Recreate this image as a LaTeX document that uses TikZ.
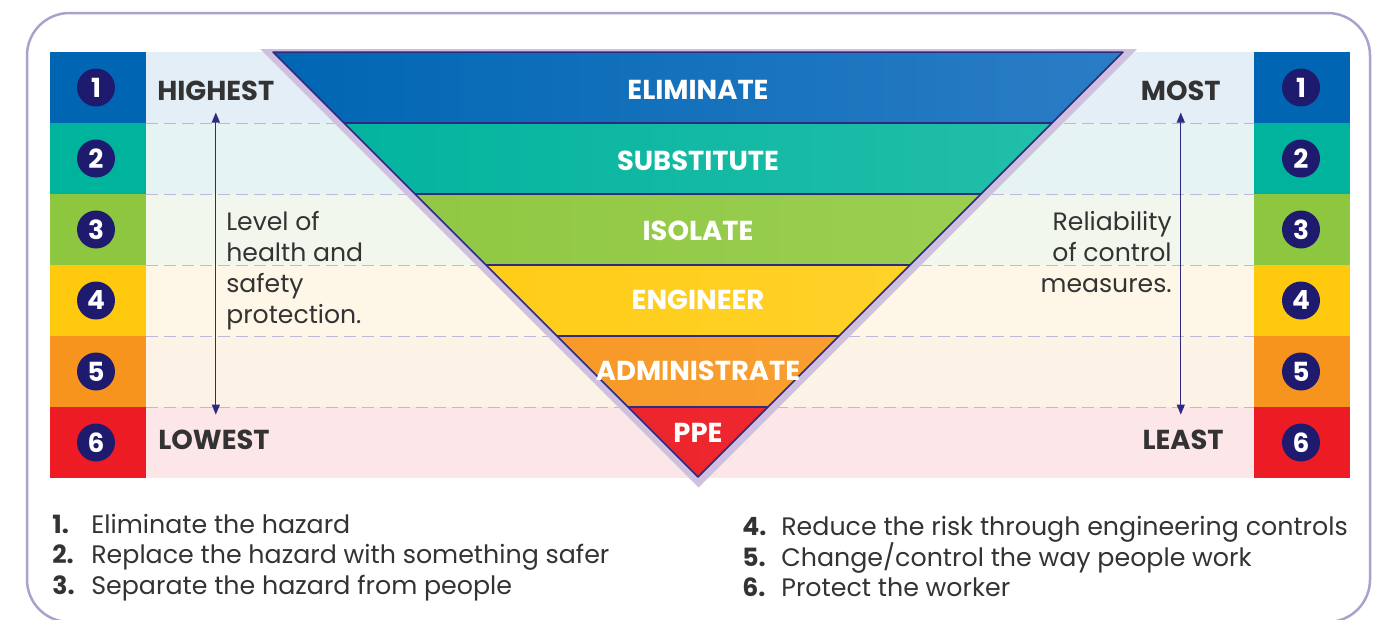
\documentclass[tikz,border=0pt]{standalone}
\usepackage{fontspec}
\setmainfont{Poppins}
\usetikzlibrary{arrows.meta}

% row colours
\definecolor{dBlue}{HTML}{0066B3}
\definecolor{dTeal}{HTML}{00B39D}
\definecolor{dGreen}{HTML}{8DC63F}
\definecolor{dYellow}{HTML}{FFC90E}
\definecolor{dOrange}{HTML}{F7941D}
\definecolor{dRed}{HTML}{ED1C24}
\definecolor{lBlue}{HTML}{E4EEF6}
\definecolor{lTeal}{HTML}{E5F4F2}
\definecolor{lGreen}{HTML}{F1F7EC}
\definecolor{lYellow}{HTML}{FEF7E7}
\definecolor{lOrange}{HTML}{FDF2E6}
\definecolor{lRed}{HTML}{FCE6E8}
\definecolor{gBlue}{HTML}{2B7DC5}
\definecolor{gTeal}{HTML}{25BFAA}
\definecolor{gGreen}{HTML}{9DD055}
\definecolor{gYellow}{HTML}{FFD533}
\definecolor{gOrange}{HTML}{F8A33B}
\definecolor{gRed}{HTML}{EE3038}
\definecolor{cNavy}{HTML}{1E1A6E}
\definecolor{cLine}{HTML}{2E2A80}
\definecolor{cLav}{HTML}{D0C0E0}
\definecolor{cFrame}{HTML}{A7A4CC}
\definecolor{cDash}{HTML}{BDBAD9}
\definecolor{cText}{HTML}{333333}

\begin{document}
\begin{tikzpicture}[
        x=0.02cm, y=-0.02cm,
        numdot/.style={circle, fill=cNavy, text=white, minimum size=0.76cm, inner sep=0pt, font=\fontsize{15}{15}\selectfont\bfseries},
        tierlabel/.style={text=white, inner sep=0pt, anchor=base, font=\fontsize{15.6}{15.6}\selectfont\bfseries},
        endlabel/.style={text=cText, inner sep=0pt, font=\fontsize{15.6}{15.6}\selectfont\bfseries},
        sidetext/.style={text=cText, inner sep=0pt, font=\fontsize{14.3}{17.6}\selectfont},
        listnum/.style={text=cText, inner sep=0pt, anchor=base west, font=\fontsize{14.3}{14.3}\selectfont\bfseries},
        listtext/.style={text=cText, inner sep=0pt, anchor=base west, font=\fontsize{14.4}{14.4}\selectfont},
        rowsep/.style={cDash, line width=0.02cm, dash pattern=on 0.24cm off 0.12cm},
        scalearrow/.style={cLine, line width=0.025cm, {Triangle[length=0.2cm,width=0.16cm]}-{Triangle[length=0.2cm,width=0.16cm]}}
    ]
        \clip (0,0) rectangle (1389,619);

        % Frame
        \draw[cFrame, line width=0.05cm, rounded corners=0.85cm] (27,13) rectangle (1370,622);

        % Rows
        \foreach \i/\dk/\lt in {1/dBlue/lBlue, 2/dTeal/lTeal, 3/dGreen/lGreen, 4/dYellow/lYellow, 5/dOrange/lOrange, 6/dRed/lRed} {
            \fill[\lt] (146,{52+71*(\i-1)}) rectangle (1254,{52+71*\i});
            \fill[\dk] (50,{52+71*(\i-1)}) rectangle (146,{52+71*\i});
            \fill[\dk] (1254,{52+71*(\i-1)}) rectangle (1350,{52+71*\i});
        }
        \foreach \y in {123,194,265,336,407}
            \draw[rowsep] (146,\y) -- (1254,\y);

        % Triangle
        \fill[cLav] (260,49) -- (1137,49) -- (698.5,487.5) -- cycle;
        \begin{scope}
            \clip (273,52) -- (1123,52) -- (698,477) -- cycle;
            \foreach \i/\a/\b in {1/dBlue/gBlue, 2/dTeal/gTeal, 3/dGreen/gGreen, 4/dYellow/gYellow, 5/dOrange/gOrange, 6/dRed/gRed}
                \shade[left color=\a, right color=\b] (273,{52+71*(\i-1)}) rectangle (1123,{52+71*\i});
            \foreach \y in {123,194,265,336,407}
                \draw[cLine, line width=0.03cm] (273,\y) -- (1123,\y);
        \end{scope}
        \draw[cLine, line width=0.03cm, line join=round] (273,52) -- (1123,52) -- (698,477) -- cycle;

        % Numbers
        \foreach \i in {1,...,6} {
            \node[numdot] (numl\i) at (96,{16.5+71*\i}) {\i};
            \node[numdot] (numr\i) at (1301,{16.5+71*\i}) {\i};
        }

        % Tiers
        \node[tierlabel] (elim) at (698,99) {ELIMINATE};
        \node[tierlabel] (subs) at (698,170) {SUBSTITUTE};
        \node[tierlabel] (isol) at (698,240) {ISOLATE};
        \node[tierlabel] (engi) at (698,309) {ENGINEER};
        \node[tierlabel] (admi) at (698,380) {ADMINISTRATE};
        \node[tierlabel] (ppe) at (698,442) {PPE};

        % Scales
        \node[endlabel, anchor=base west] (highest) at (157,100) {HIGHEST};
        \node[endlabel, anchor=base west] (lowest) at (158,449) {LOWEST};
        \node[endlabel, anchor=base east] (most) at (1221,100) {MOST};
        \node[endlabel, anchor=base east] (least) at (1224,449) {LEAST};
        \draw[scalearrow, shorten <=0.24cm, shorten >=0.29cm] (highest.south) -- (highest.south |- lowest.north);
        \draw[scalearrow, shorten <=0.24cm, shorten >=0.29cm] (most.south) -- (most.south |- least.north);

        \node[sidetext, anchor=base west, align=left] (level) at (226,323) {Level of\\health and\\safety\\protection.};
        \node[sidetext, anchor=base east, align=right] (reli) at (1172,292) {Reliability\\of control\\measures.};

        % List
        \foreach \n/\txt/\bx/\by in {1/{Eliminate the hazard}/52/533, 2/{Replace the hazard with something safer}/52/563, 3/{Separate the hazard from people}/52/594, 4/{Reduce the risk through engineering controls}/742/535, 5/{Change/control the way people work}/742/566, 6/{Protect the worker}/742/596} {
            \node[listnum] (num\n) at (\bx,\by) {\n.};
            \node[listtext] (item\n) at (\bx+39,\by) {\txt};
        }

    \end{tikzpicture}
\end{document}
